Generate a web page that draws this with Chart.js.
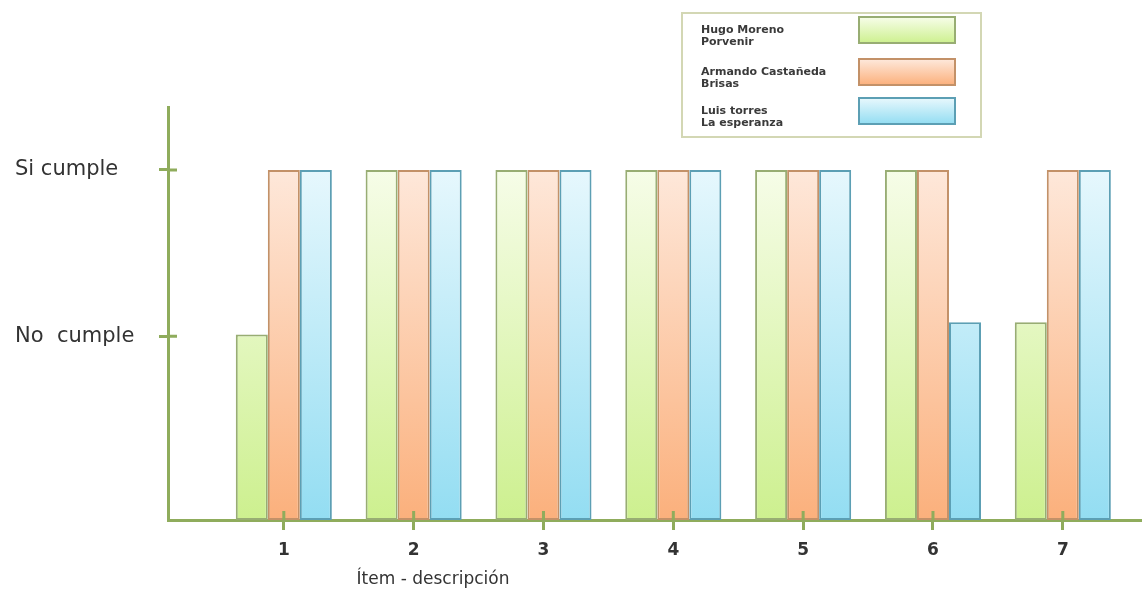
<!DOCTYPE html>
<html>
<head>
<meta charset="utf-8">
<script src="https://cdn.jsdelivr.net/npm/chart.js@4/dist/chart.umd.min.js"></script>
<style>
  html, body { margin: 0; padding: 0; background: #ffffff; }
  #wrap { width: 1142px; height: 591px; position: relative; }
</style>
</head>
<body>
<div id="wrap"><canvas id="c" width="1142" height="591"></canvas></div>
<script>
// Items evaluated along the horizontal axis
const items = [1, 2, 3, 4, 5, 6, 7];

// Compliance level per person (2 = cumple, ~1 = no cumple)
const hugoMoreno = [1.06, 2, 2, 2, 2, 2, 1.13];
const armandoCastaneda = [2, 2, 2, 2, 2, 2, 2];
const luisTorres = [2, 2, 2, 2, 2, 1.13, 2];

// Series names (two lines each: person / place)
const seriesNames = [
  ['Hugo Moreno', 'Porvenir'],
  ['Armando Castañeda', 'Brisas'],
  ['Luis torres', 'La esperanza']
];

// Vertical axis ticks
const yTickValues = [1.05, 2];
const yTickLabels = ['No  cumple', 'Si cumple'];

const xTitle = 'Ítem - descripción';

const AXIS = '#8fac5c';
const FONT = '"DejaVu Sans", sans-serif';

const palette = [
  { top: '#f7fdea', bottom: '#cdf08f', border: '#98ad73' },
  { top: '#fee9dc', bottom: '#fbb07c', border: '#c39168' },
  { top: '#e8f8fd', bottom: '#93ddf2', border: '#5c9fb4' }
];

function barFill(i) {
  return function (ctx) {
    const area = ctx.chart.chartArea;
    if (!area) return palette[i].bottom;
    const g = ctx.chart.ctx.createLinearGradient(0, area.top + 55, 0, area.bottom);
    g.addColorStop(0, palette[i].top);
    g.addColorStop(1, palette[i].bottom);
    return g;
  };
}

// Small tick marks crossing the axes, the side legend and the axis title
const decorations = {
  id: 'decorations',
  afterDraw(chart) {
    const ctx = chart.ctx;
    const xs = chart.scales.x, ys = chart.scales.y;
    const area = chart.chartArea;
    ctx.save();
    ctx.strokeStyle = AXIS;
    ctx.lineWidth = 3;
    ctx.beginPath();
    items.forEach(v => {
      const px = xs.getPixelForValue(v);
      ctx.moveTo(px, area.bottom - 9);
      ctx.lineTo(px, area.bottom);
    });
    yTickValues.forEach(v => {
      const py = ys.getPixelForValue(v);
      ctx.moveTo(area.left, py);
      ctx.lineTo(area.left + 9, py);
    });
    ctx.stroke();

    // axis title
    ctx.fillStyle = '#333333';
    ctx.font = '17px ' + FONT;
    ctx.textAlign = 'center';
    ctx.textBaseline = 'middle';
    ctx.fillText(xTitle, area.left + 265, 580);

    // legend
    const lx = 682, ly = 13, lw = 299, lh = 124;
    ctx.strokeStyle = '#d3d7b4';
    ctx.lineWidth = 2;
    ctx.strokeRect(lx, ly, lw, lh);
    const rows = [17, 59, 98];
    chart.data.datasets.forEach((ds, i) => {
      const sy = rows[i];
      const g = ctx.createLinearGradient(0, sy, 0, sy + 26);
      g.addColorStop(0, palette[i].top);
      g.addColorStop(1, palette[i].bottom);
      ctx.fillStyle = g;
      ctx.fillRect(859, sy, 96, 26);
      ctx.strokeStyle = palette[i].border;
      ctx.lineWidth = 2;
      ctx.strokeRect(859, sy, 96, 26);
      ctx.fillStyle = '#3a3a3a';
      ctx.font = 'bold 11px ' + FONT;
      ctx.textAlign = 'left';
      ctx.textBaseline = 'middle';
      ds.label.forEach((line, k) => {
        ctx.fillText(line, 701, sy + 13 + k * 12);
      });
    });
    ctx.restore();
  }
};

const names = [hugoMoreno, armandoCastaneda, luisTorres];

new Chart(document.getElementById('c'), {
  type: 'bar',
  data: {
    datasets: names.map((vals, i) => ({
      label: seriesNames[i],
      data: items.map((x, k) => ({ x: x, y: vals[k] })),
      backgroundColor: barFill(i),
      borderColor: palette[i].border,
      borderWidth: 2,
      borderSkipped: false,
      categoryPercentage: 0.74,
      barPercentage: 1.0
    }))
  },
  options: {
    responsive: false,
    animation: false,
    layout: { padding: { left: 15, top: 107, right: 0, bottom: 0 } },
    plugins: {
      legend: { display: false },
      tooltip: { enabled: false }
    },
    scales: {
      x: {
        type: 'linear',
        offset: false,
        min: 0.108,
        max: 7.61,
        afterFit(scale) { scale.height = 71; },
        afterBuildTicks(scale) { scale.ticks = items.map(v => ({ value: v })); },
        border: { display: true, color: AXIS, width: 3 },
        grid: { display: true, offset: false, drawOnChartArea: false, drawTicks: true, tickLength: 10, tickColor: AXIS, tickWidth: 3 },
        ticks: {
          padding: 10,
          color: '#333333',
          font: { family: FONT, size: 17, weight: 'bold' },
          callback: v => String(v)
        }
      },
      y: {
        min: 0,
        max: 2.36,
        afterFit(scale) { scale.width = 153; },
        afterBuildTicks(scale) { scale.ticks = yTickValues.map(v => ({ value: v })); },
        border: { display: true, color: AXIS, width: 3 },
        grid: { display: true, drawOnChartArea: false, drawTicks: true, tickLength: 9, tickColor: AXIS, tickWidth: 3 },
        ticks: {
          crossAlign: 'far',
          color: '#333333',
          font: { family: FONT, size: 21 },
          callback: v => {
            const idx = yTickValues.indexOf(v);
            return idx >= 0 ? yTickLabels[idx] : '';
          }
        }
      }
    }
  },
  plugins: [decorations]
});
</script>
</body>
</html>
